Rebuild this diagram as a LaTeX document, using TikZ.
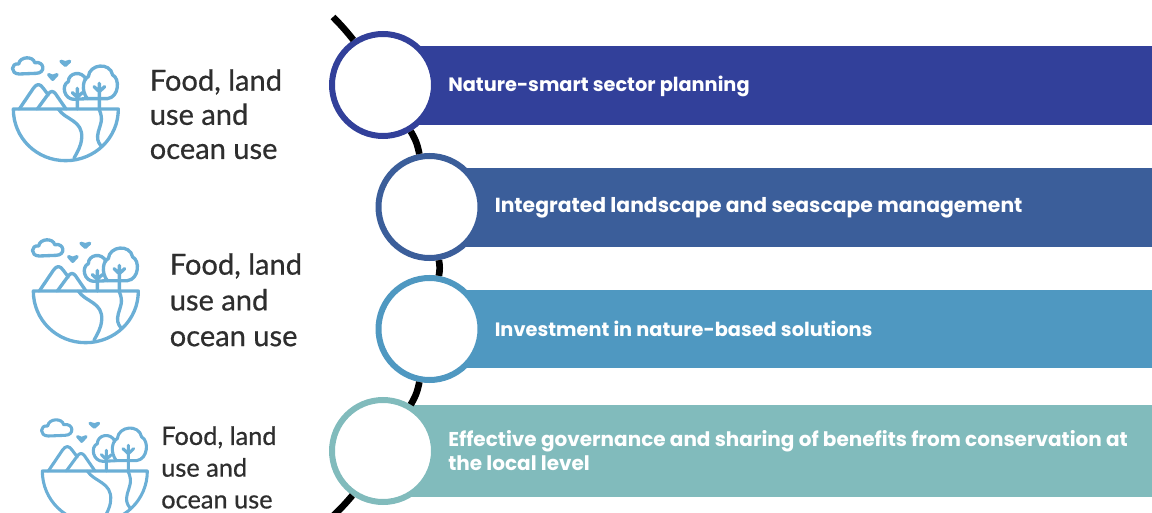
\documentclass[tikz,border=0pt]{standalone}
\usepackage{fontspec}
\setmainfont{Poppins}
\newfontfamily\iconfont[RawFeature={embolden=0.6}]{Lato}
\definecolor{cA}{HTML}{32409A}
\definecolor{cB}{HTML}{3B5E9A}
\definecolor{cC}{HTML}{4F98C1}
\definecolor{cD}{HTML}{81BBBC}
\definecolor{iconblue}{HTML}{6BAFD6}
\definecolor{labelgrey}{HTML}{2E2E2E}
\tikzset{
  px/.style={x=0.75pt,y=-0.75pt},
  hub/.style={circle,draw=#1,line width=4.5pt,fill=white,minimum size=76.5pt,inner sep=0pt},
  bar/.style={fill=#1,draw=none,rectangle,anchor=west,inner sep=0pt},
  bartext/.style={anchor=west,inner sep=0pt,text=white,align=left},
  spine/.style={line width=5pt,draw=black},
  usetext/.style={anchor=north west,inner sep=0pt,align=left,text=labelgrey},
  pics/landicon/.style={code={
    \begin{scope}[x=0.25pt,y=-0.25pt,draw=iconblue,line width=#1,line cap=round,line join=round]
      % bowl
      \draw (40,207) -- (355,207) .. controls (355,294) and (284,362) .. (197,362) .. controls (110,362) and (40,294) .. (40,207) -- cycle;
      % rivers
      \draw (175,207) .. controls (195,240) and (250,240) .. (245,295) .. controls (243,320) and (232,335) .. (222,355);
      \draw (297,207) .. controls (312,240) and (300,255) .. (295,275) .. controls (290,295) and (293,305) .. (303,318);
      % mountains
      \draw (58,207) -- (100,145) .. controls (110,130) and (120,130) .. (130,145) -- (145,165);
      \draw (112,207) -- (145,162) .. controls (152,152) and (160,152) .. (167,162) -- (198,207);
      % cloud
      \draw (58,102) .. controls (30,102) and (32,68) .. (56,72) .. controls (60,48) and (100,48) .. (104,68) .. controls (134,62) and (138,100) .. (108,100) -- cycle;
      % birds
      \draw (183,64) -- (196,76) -- (209,64) -- (196,68) -- cycle;
      \draw (146,104) -- (158,118) -- (171,104) -- (158,109) -- cycle;
      % small tree
      \draw (232,207) -- (232,145) (217,158) -- (232,172) -- (247,158);
      \draw (262,176) -- (222,178) .. controls (192,178) and (183,135) .. (205,125) .. controls (205,98) and (245,90) .. (258,118);
      % big tree
      \draw (298,207) -- (298,130) (282,140) -- (298,155) -- (314,140);
      \draw (262,176) .. controls (242,150) and (250,115) .. (265,110) .. controls (268,72) and (330,65) .. (338,105) .. controls (360,115) and (358,172) .. (322,176) -- (262,176);
    \end{scope}
  }}
}
\begin{document}
\begin{tikzpicture}[px]
\useasboundingbox (0,0) rectangle (1152,513);
% bars
\node[bar=cA,minimum width=578.25pt,minimum height=58.9pt] (b1) at (381,85.3) {};
\node[bar=cB,minimum width=543.75pt,minimum height=58.9pt] (b2) at (427,207.3) {};
\node[bar=cC,minimum width=543.75pt,minimum height=58.5pt] (b3) at (427,329) {};
\node[bar=cD,minimum width=578.25pt,minimum height=69pt] (b4) at (381,451) {};
% circles
\node[hub=cA] (h1) at (383,85) {};
\node[hub=cB] (h2) at (429.5,207) {};
\node[hub=cC] (h3) at (429.5,329) {};
\node[hub=cD] (h4) at (383,451) {};
% spine
\coordinate (top) at (333,17);
\coordinate (bot) at (333,516);
\draw[spine] (top) to[bend left=3] (h1);
\draw[spine] (h1) to[bend left=10] (h2);
\draw[spine] (h2) to[bend left=10] (h3);
\draw[spine] (h3) to[bend left=10] (h4);
\draw[spine] (h4) to[bend left=3] (bot);
% bar labels
\node[bartext,font=\fontsize{14.5}{18}\selectfont\bfseries] (t1) at (448,86) {Nature-smart sector planning};
\node[bartext,font=\fontsize{15.25}{18}\selectfont\bfseries] (t2) at (494.5,208) {Integrated landscape and seascape management};
\node[bartext,font=\fontsize{14.5}{18}\selectfont\bfseries] (t3) at (494.5,329) {Investment in nature-based solutions};
\node[bartext,font=\fontsize{15}{18}\selectfont\bfseries] (t4) at (448,450.5) {Effective governance and sharing of benefits from conservation at\\the local level};
% icons
\pic (i1) at (0,40) {landicon=2.5pt};
\begin{scope}[shift={(20,222)},scale=1.04]
  \pic (i2) at (0,0) {landicon=2.5pt};
\end{scope}
\begin{scope}[shift={(29,402)},scale=0.88]
  \pic (i3) at (0,0) {landicon=2.3pt};
\end{scope}
% icon labels
\node[usetext,font=\iconfont\fontsize{21.8}{25.6}\selectfont] (l1) at (149.5,69) {Food, land\\use and\\ocean use};
\node[usetext,font=\iconfont\fontsize{21.8}{26.8}\selectfont] (l2) at (169.5,253) {Food, land\\use and\\ocean use};
\node[usetext,font=\iconfont\fontsize{19}{23.8}\selectfont] (l3) at (161,426) {Food, land\\use and\\ocean use};
\end{tikzpicture}
\end{document}
